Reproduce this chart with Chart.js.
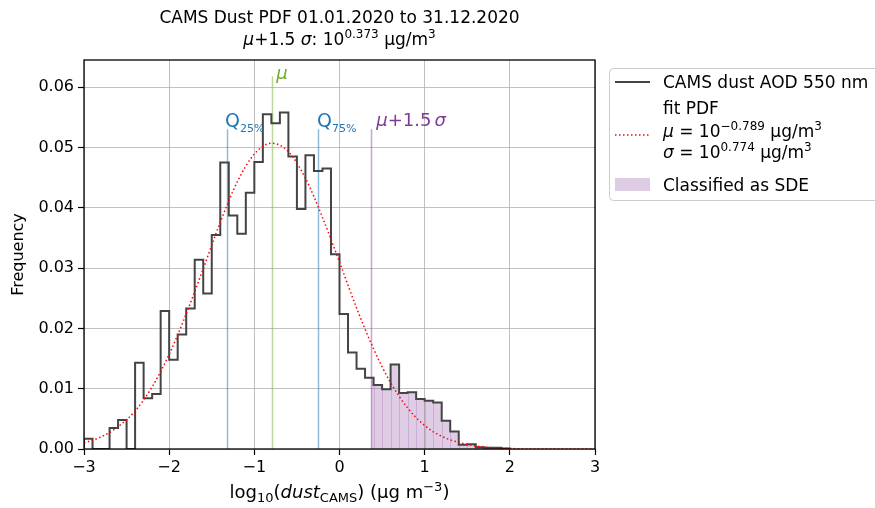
<!DOCTYPE html>
<html>
<head>
<meta charset="utf-8">
<script src="https://cdn.jsdelivr.net/npm/chart.js@4"></script>
<style>
  html, body { margin: 0; padding: 0; background: #fff; }
  canvas { display: block; }
</style>
</head>
<body>
<canvas id="dustChart" width="875" height="508"></canvas>
<script>
// Datos del histograma (bins de 0.1 en log10)
const binStart = -3.0;
const binWidth = 0.1;
const frequency = [
  0.0017, 0.0000, 0.0000, 0.0035, 0.0048, 0.0000, 0.0143, 0.0084, 0.0091, 0.0229,
  0.0148, 0.0190, 0.0233, 0.0314, 0.0258, 0.0355, 0.0475, 0.0387, 0.0357, 0.0425,
  0.0476, 0.0555, 0.0540, 0.0558, 0.0485, 0.0398, 0.0487, 0.0461, 0.0465, 0.0323,
  0.0224, 0.0160, 0.0133, 0.0118, 0.0106, 0.0099, 0.0140, 0.0093, 0.0094, 0.0083,
  0.0080, 0.0077, 0.0047, 0.0029, 0.0007, 0.0008, 0.0003, 0.0002, 0.0002, 0.0001
];

// Curva de ajuste
const fitX = [-3.0, -2.8, -2.6, -2.4, -2.2, -2.0, -1.8, -1.6, -1.4, -1.2, -1.0, -0.8,
  -0.6, -0.4, -0.2, 0.0, 0.2, 0.4, 0.6, 0.8, 1.0, 1.2, 1.4, 1.6, 1.8, 2.0, 2.2, 2.6, 3.0];
const fitY = [0.0010, 0.0020, 0.0037, 0.0063, 0.0103, 0.0157, 0.0224, 0.0299, 0.0376, 0.0443, 0.0489, 0.0507,
  0.0493, 0.0449, 0.0384, 0.0310, 0.0234, 0.0166, 0.0110, 0.0068, 0.0039, 0.0021, 0.0011, 0.0005, 0.0002, 0.0001, 0.0000, 0.0000, 0.0000];

// Umbral SDE (mu + 1.5 sigma)
const sdeStart = 0.373;

// Líneas verticales
const markerValues = [-1.321, -0.789, -0.253, 0.373];
const markerTops = [0.0530, 0.0618, 0.0530, 0.0530];

const xTicks = [-3, -2, -1, 0, 1, 2, 3];
const yTicks = [0.00, 0.01, 0.02, 0.03, 0.04, 0.05, 0.06];

const FONT = 'DejaVu Sans';
const blue = '#1f77b4';
const green = '#6fab2a';
const purple = '#7d3a96';

// Construir puntos del histograma
const edges = frequency.map((f, i) => +(binStart + i * binWidth).toFixed(2));
const lastEdge = +(binStart + frequency.length * binWidth).toFixed(2);

const histData = [{ x: binStart, y: 0 }];
frequency.forEach((f, i) => histData.push({ x: edges[i], y: f }));
histData.push({ x: lastEdge, y: 0 });

const sdeData = [];
frequency.forEach((f, i) => {
  const right = edges[i] + binWidth;
  if (right <= sdeStart) return;
  sdeData.push({ x: Math.max(edges[i], sdeStart), y: f });
});
sdeData.push({ x: lastEdge, y: 0 });

const fitData = fitX.map((x, i) => ({ x: x, y: fitY[i] }));

// Dibuja texto con tramos (superíndices, cursivas)
function drawRuns(ctx, runs, x, y, align, color) {
  let total = 0;
  runs.forEach(r => { ctx.font = r.f; r.w = ctx.measureText(r.t).width; total += r.w; });
  let cx = align === 'center' ? x - total / 2 : x;
  ctx.textAlign = 'left';
  ctx.textBaseline = 'alphabetic';
  runs.forEach(r => {
    ctx.font = r.f;
    ctx.fillStyle = r.c || color || '#000';
    ctx.fillText(r.t, cx, y + (r.dy || 0));
    cx += r.w;
  });
}

const big = '17px "' + FONT + '"';
const bigIt = 'italic 17px "' + FONT + '"';
const small = '12px "' + FONT + '"';
const lab = '18px "' + FONT + '"';
const labIt = 'italic 18px "' + FONT + '"';
const labSmall = '13px "' + FONT + '"';

const overlay = {
  id: 'overlay',
  beforeDatasetsDraw(chart) {
    const ctx = chart.ctx;
    const xs = chart.scales.x, ys = chart.scales.y;
    const colors = ['rgba(31,119,180,0.5)', 'rgba(120,180,60,0.5)', 'rgba(31,119,180,0.5)', 'rgba(125,58,150,0.45)'];
    ctx.save();
    markerValues.forEach((v, i) => {
      const px = Math.round(xs.getPixelForValue(v)) + 0.5;
      ctx.strokeStyle = colors[i];
      ctx.lineWidth = 1.5;
      ctx.beginPath();
      ctx.moveTo(px, ys.getPixelForValue(0));
      ctx.lineTo(px, ys.getPixelForValue(markerTops[i]));
      ctx.stroke();
    });
    ctx.restore();
  },
  afterDatasetsDraw(chart) {
    const ctx = chart.ctx;
    const xs = chart.scales.x, ys = chart.scales.y;
    const a = chart.chartArea;
    ctx.save();
    // bordes internos de las barras SDE
    ctx.strokeStyle = 'rgba(150,90,175,0.28)';
    ctx.lineWidth = 1;
    frequency.forEach((f, i) => {
      if (i === 0) return;
      if (edges[i] <= sdeStart) return;
      const h = Math.min(f, frequency[i - 1]);
      if (h <= 0) return;
      const px = Math.round(xs.getPixelForValue(edges[i])) + 0.5;
      ctx.beginPath();
      ctx.moveTo(px, ys.getPixelForValue(0));
      ctx.lineTo(px, ys.getPixelForValue(h));
      ctx.stroke();
    });

    // marco
    ctx.strokeStyle = '#000';
    ctx.lineWidth = 1.3;
    ctx.strokeRect(a.left, a.top, a.right - a.left, a.bottom - a.top);

    // etiquetas de las líneas
    const q25 = xs.getPixelForValue(markerValues[0]);
    const mu = xs.getPixelForValue(markerValues[1]);
    const q75 = xs.getPixelForValue(markerValues[2]);
    const sde = xs.getPixelForValue(markerValues[3]);
    const qf = '19px "' + FONT + '"';
    const subf = '11px "' + FONT + '"';
    drawRuns(ctx, [{ t: 'Q', f: qf }, { t: '25%', f: subf, dy: 5 }], q25 - 2, 127, 'left', blue);
    drawRuns(ctx, [{ t: 'Q', f: qf }, { t: '75%', f: subf, dy: 5 }], q75 - 1, 127, 'left', blue);
    drawRuns(ctx, [{ t: 'μ', f: 'italic 18px "' + FONT + '"' }], mu + 4, 79, 'left', green);
    drawRuns(ctx, [
      { t: 'μ', f: 'italic 18px "' + FONT + '"' },
      { t: '+1.5', f: '18px "' + FONT + '"' },
      { t: ' ', f: '10px "' + FONT + '"' },
      { t: 'σ', f: 'italic 18px "' + FONT + '"' }
    ], sde + 5, 126, 'left', purple);
    ctx.restore();
  },
  afterDraw(chart) {
    const ctx = chart.ctx;
    const a = chart.chartArea;
    const cx = (a.left + a.right) / 2;
    ctx.save();
    // título
    drawRuns(ctx, [{ t: 'CAMS Dust PDF 01.01.2020 to 31.12.2020', f: big }], cx, 23, 'center');
    drawRuns(ctx, [
      { t: 'μ', f: bigIt }, { t: '+1.5 ', f: big }, { t: 'σ', f: bigIt },
      { t: ': 10', f: big }, { t: '0.373', f: small, dy: -7 },
      { t: ' μg/m', f: big }, { t: '3', f: small, dy: -7 }
    ], cx, 45, 'center');

    // título eje x
    drawRuns(ctx, [
      { t: 'log', f: lab }, { t: '10', f: labSmall, dy: 4 }, { t: '(', f: lab },
      { t: 'dust', f: labIt }, { t: 'CAMS', f: labSmall, dy: 4 },
      { t: ') (μg m', f: lab }, { t: '−3', f: labSmall, dy: -7 }, { t: ')', f: lab }
    ], cx, 498, 'center');

    // título eje y
    ctx.save();
    ctx.translate(23, (a.top + a.bottom) / 2);
    ctx.rotate(-Math.PI / 2);
    ctx.font = '16px "' + FONT + '"';
    ctx.fillStyle = '#000';
    ctx.textAlign = 'center';
    ctx.textBaseline = 'alphabetic';
    ctx.fillText('Frequency', 0, 0);
    ctx.restore();

    // leyenda
    ctx.fillStyle = 'rgba(255,255,255,0.85)';
    ctx.strokeStyle = '#cccccc';
    ctx.lineWidth = 1;
    ctx.beginPath();
    ctx.roundRect(609.5, 68.5, 300, 132, 4);
    ctx.fill();
    ctx.stroke();

    ctx.strokeStyle = '#444444';
    ctx.lineWidth = 2;
    ctx.beginPath();
    ctx.moveTo(615, 82); ctx.lineTo(650, 82);
    ctx.stroke();
    drawRuns(ctx, [{ t: 'CAMS dust AOD 550 nm', f: big }], 663, 88, 'left');

    ctx.strokeStyle = 'red';
    ctx.lineWidth = 1.5;
    ctx.setLineDash([1.5, 2.5]);
    ctx.beginPath();
    ctx.moveTo(615, 135); ctx.lineTo(650, 135);
    ctx.stroke();
    ctx.setLineDash([]);
    drawRuns(ctx, [{ t: 'fit PDF', f: big }], 663, 114, 'left');
    drawRuns(ctx, [
      { t: 'μ', f: bigIt }, { t: ' = 10', f: big }, { t: '−0.789', f: small, dy: -7 },
      { t: ' μg/m', f: big }, { t: '3', f: small, dy: -7 }
    ], 663, 137, 'left');
    drawRuns(ctx, [
      { t: 'σ', f: bigIt }, { t: ' = 10', f: big }, { t: '0.774', f: small, dy: -7 },
      { t: ' μg/m', f: big }, { t: '3', f: small, dy: -7 }
    ], 663, 158, 'left');

    ctx.fillStyle = 'rgb(222,203,228)';
    ctx.fillRect(615, 178, 35, 13);
    drawRuns(ctx, [{ t: 'Classified as SDE', f: big }], 663, 191, 'left');
    ctx.restore();
  }
};

const ctx = document.getElementById('dustChart').getContext('2d');
new Chart(ctx, {
  type: 'line',
  data: {
    datasets: [
      {
        label: 'Classified as SDE',
        data: sdeData,
        stepped: true,
        fill: 'origin',
        backgroundColor: 'rgba(150, 90, 170, 0.3)',
        borderWidth: 0,
        pointRadius: 0,
        order: 3
      },
      {
        label: 'CAMS dust AOD 550 nm',
        data: histData,
        stepped: true,
        fill: false,
        borderColor: '#444444',
        borderWidth: 2,
        pointRadius: 0,
        order: 2
      },
      {
        label: 'fit PDF',
        data: fitData,
        fill: false,
        borderColor: 'red',
        borderWidth: 1.5,
        borderDash: [1.5, 2.5],
        cubicInterpolationMode: 'monotone',
        pointRadius: 0,
        order: 1
      }
    ]
  },
  options: {
    responsive: false,
    animation: false,
    layout: { padding: { left: 0, right: 280, top: 60, bottom: 0 } },
    plugins: {
      legend: { display: false },
      title: { display: false },
      tooltip: { enabled: false }
    },
    scales: {
      x: {
        type: 'linear',
        min: xTicks[0],
        max: xTicks[xTicks.length - 1],
        afterBuildTicks: s => { s.ticks = xTicks.map(v => ({ value: v })); },
        afterFit: s => { s.height = 59; },
        ticks: {
          font: { family: FONT, size: 16 },
          color: '#000',
          padding: 3,
          maxRotation: 0,
          callback: v => (v < 0 ? '\u2212' + Math.abs(v) : String(v))
        },
        grid: { color: '#b0b0b0', lineWidth: 0.8, tickColor: '#000', tickLength: 6, tickWidth: 1.2 },
        border: { display: false }
      },
      y: {
        type: 'linear',
        min: 0,
        max: 0.0645,
        afterBuildTicks: s => { s.ticks = yTicks.map(v => ({ value: v })); },
        afterFit: s => { s.width = 84; },
        ticks: {
          font: { family: FONT, size: 16 },
          color: '#000',
          padding: 4,
          callback: v => v.toFixed(2)
        },
        grid: { color: '#b0b0b0', lineWidth: 0.8, tickColor: '#000', tickLength: 6, tickWidth: 1.2 },
        border: { display: false }
      }
    }
  },
  plugins: [overlay]
});
</script>
</body>
</html>
